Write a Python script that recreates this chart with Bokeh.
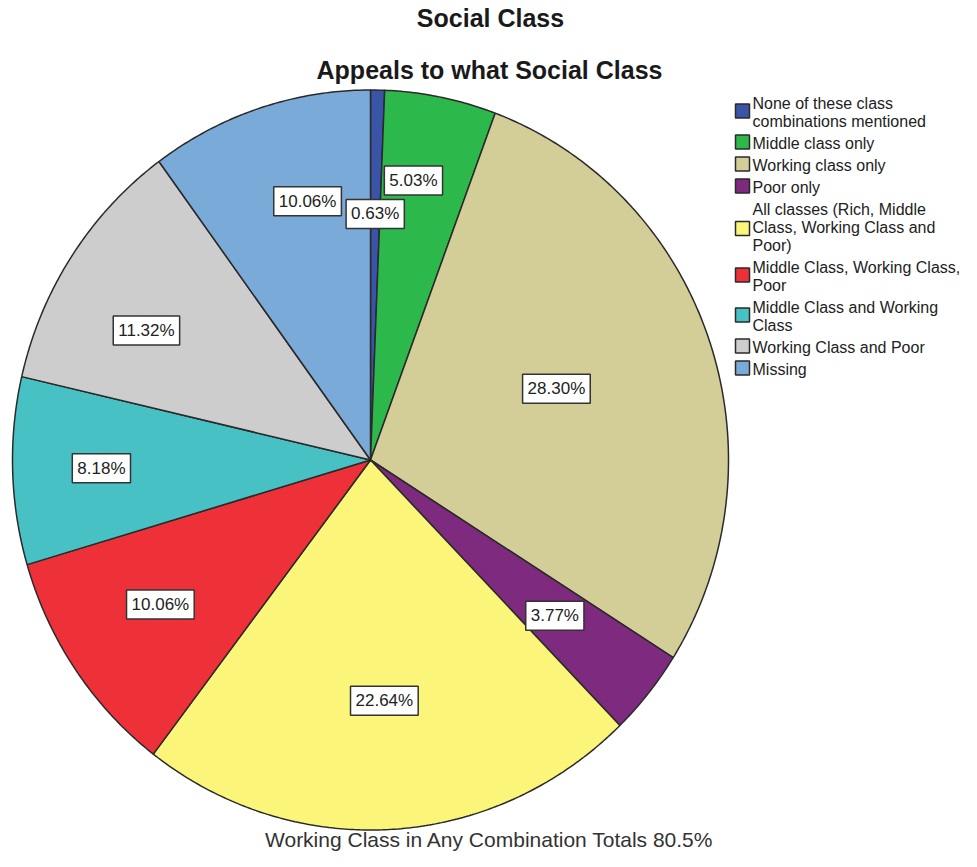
import numpy as np
from bokeh.plotting import figure
from bokeh.models import Range1d
from bokeh.core.properties import value
from bokeh.embed import file_html
from bokeh.resources import INLINE

# ---------------- data ----------------
categories = [
    "None of these class combinations mentioned",
    "Middle class only",
    "Working class only",
    "Poor only",
    "All classes (Rich, Middle Class, Working Class and Poor)",
    "Middle Class, Working Class, Poor",
    "Middle Class and Working Class",
    "Working Class and Poor",
    "Missing",
]
legend_labels = [
    "None of these class\ncombinations mentioned",
    "Middle class only",
    "Working class only",
    "Poor only",
    "All classes (Rich, Middle\nClass, Working Class and\nPoor)",
    "Middle Class, Working Class,\nPoor",
    "Middle Class and Working\nClass",
    "Working Class and Poor",
    "Missing",
]
percents = [0.63, 5.03, 28.30, 3.77, 22.64, 10.06, 8.18, 11.32, 10.06]
colors = ["#3a55a8", "#2cb84b", "#d3cd98", "#7e2a7e", "#fbf679",
          "#ee3039", "#48c1c5", "#cdcdcd", "#7aaad8"]

title_top = "Social Class"
title_main = "Appeals to what Social Class"
footnote = "Working Class in Any Combination Totals 80.5%"

# ---------------- layout (screen-pixel coordinates) ----------------
W, H = 961, 851
cx, cy, rx, ry = 370.0, 459.5, 358.0, 370.0
label_r = [0.665, 0.765, 0.554, 0.665, 0.652, 0.705, 0.752, 0.717, 0.721]
label_nudge = [0.0, -2.3, -1.7, 0.2, 0.0, 0.9, 0.0, -4.2, 4.0]
FONT = "Liberation Sans"

p = figure(width=W, height=H, output_backend="svg", toolbar_location=None,
           x_range=Range1d(0, W), y_range=Range1d(H, 0),
           x_axis_location=None, y_axis_location=None, min_border=0,
           outline_line_color=None, background_fill_color="white",
           border_fill_color="white")
p.grid.visible = False

# ---------------- pie slices ----------------
vals = np.array(percents, dtype=float)
frac = vals / vals.sum()
edges = np.concatenate([[0.0], np.cumsum(frac)]) * 2 * np.pi
xs, ys = [], []
for a0, a1 in zip(edges[:-1], edges[1:]):
    n = max(int((a1 - a0) / (2 * np.pi) * 720), 4)
    th = np.linspace(a0, a1, n)
    xs.append([cx] + list(cx + rx * np.sin(th)))
    ys.append([cy] + list(cy - ry * np.cos(th)))
p.patches(xs=xs, ys=ys, fill_color=colors, line_color="#2a2a2a", line_width=1.5)

# ---------------- slice labels ----------------
mids = (edges[:-1] + edges[1:]) / 2 + np.radians(label_nudge)
lr = np.array(label_r)
lx = cx + rx * lr * np.sin(mids)
ly = cy - ry * lr * np.cos(mids)
ltxt = ["%.2f%%" % v for v in percents]
p.text(x=lx, y=ly, text=ltxt, text_align="center", text_baseline="middle",
       text_font=value(FONT), text_font_size="17px", text_color="#222222",
       background_fill_color="white", border_line_color="#333333",
       border_line_width=1.5, padding=5)

# ---------------- titles ----------------
p.text(x=[490], y=[17], text=[title_top], text_align="center",
       text_baseline="middle", text_font=value(FONT), text_font_size="25px",
       text_font_style="bold", text_color="#1a1a1a")
p.text(x=[489], y=[69], text=[title_main], text_align="center",
       text_baseline="middle", text_font=value(FONT), text_font_size="25px",
       text_font_style="bold", text_color="#1a1a1a")
p.text(x=[489], y=[839], text=[footnote], text_align="center",
       text_baseline="middle", text_font=value(FONT), text_font_size="21px",
       text_color="#333333")

# ---------------- legend ----------------
line_h, gap = 18.0, 4.0
y_first = 103.0
sq_x, sq_size, txt_x = 742, 14, 752
sq_y, t_x, t_y, t_s = [], [], [], []
y = y_first
for lab in legend_labels:
    lines = lab.split("\n")
    n = len(lines)
    sq_y.append(y + (n - 1) * line_h / 2 - 1.5 + (2.5 if n > 2 else 0))
    for k, ln in enumerate(lines):
        t_x.append(txt_x)
        t_y.append(y + k * line_h)
        t_s.append(ln)
    y += n * line_h + gap
p.rect(x=[sq_x] * len(sq_y), y=sq_y, width=sq_size, height=sq_size,
       fill_color=colors, line_color="#2a2a2a", line_width=1.5)
p.text(x=t_x, y=t_y, text=t_s, text_align="left", text_baseline="middle",
       text_font=value(FONT), text_font_size="16px", text_color="#222222")

open("out.html", "w").write(file_html(p, INLINE))
